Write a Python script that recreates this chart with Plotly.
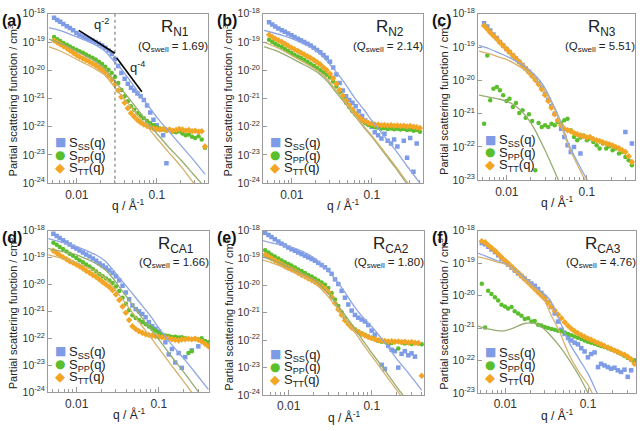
import plotly.graph_objects as go

# ---------------- data (log10 of partial scattering function, cm^3) ----------------
q = [0.0052, 0.0057, 0.0062, 0.0068, 0.0075, 0.0082, 0.0090, 0.0099, 0.0108, 0.0119,
     0.0130, 0.0143, 0.0157, 0.0172, 0.0189, 0.0207, 0.0227, 0.0249, 0.0273, 0.0300,
     0.0329, 0.0361, 0.0396, 0.0434, 0.0476, 0.0522, 0.0573, 0.0628, 0.0689, 0.0756,
     0.0829, 0.0909, 0.0997, 0.109, 0.120, 0.132, 0.144, 0.158, 0.174, 0.190,
     0.209, 0.229, 0.251, 0.276, 0.302, 0.332, 0.364, 0.40]

fit_q = [0.0045, 0.006, 0.008, 0.01, 0.013, 0.017, 0.022, 0.028, 0.035, 0.045,
         0.06, 0.08, 0.1, 0.14, 0.2, 0.28, 0.4]

a_ss_log = [-18.14,-18.22,-18.28,-18.36,-18.44,-18.50,-18.58,-18.68,-18.74,-18.80,
            -18.85,-18.90,-18.95,-19.00,-19.06,-19.12,-19.20,-19.30,-19.42,-19.60,
            -19.85,-20.10,-20.30,-20.48,-20.62,-20.72,-20.82,-20.92,-21.05,-21.25,
            -21.50,-21.75,-21.95,-22.10,-22.30,-23.30,None,None,None,None,
            None,None,None,None,None,None,None,None]
a_pp_log = [-18.82,-18.90,-18.96,-19.03,-19.10,-19.16,-19.22,-19.27,-19.33,-19.38,
            -19.44,-19.50,-19.56,-19.62,-19.70,-19.78,-19.88,-19.98,-20.10,-20.24,
            -20.45,-20.70,-20.92,-21.10,-21.28,-21.40,-21.52,-21.62,-21.70,-21.80,
            -21.88,-21.95,-22.02,-22.06,-22.10,-22.14,-22.12,-22.18,-22.20,-22.16,
            -22.24,-22.30,-22.28,-22.36,-22.40,-22.34,-22.45,-22.75]
a_tt_log = [-18.95,-19.02,-19.08,-19.15,-19.22,-19.30,-19.38,-19.46,-19.52,-19.58,
            -19.64,-19.70,-19.76,-19.82,-19.90,-19.98,-20.08,-20.20,-20.34,-20.50,
            -20.72,-20.95,-21.15,-21.35,-21.52,-21.65,-21.76,-21.85,-21.92,-21.98,
            -22.02,-22.06,-22.08,-22.10,-22.08,-22.12,-22.10,-22.14,-22.12,-22.08,
            -22.10,-22.14,-22.12,-22.16,-22.14,-22.18,-22.16,-22.70]
a_fit_ss = [-18.49,-18.58,-18.71,-18.82,-18.95,-19.10,-19.30,-19.62,-19.92,-20.32,-20.82,-21.30,-21.67,-22.15,-22.66,-23.14,-23.68]
a_fit_pp = [-18.90,-19.03,-19.18,-19.33,-19.50,-19.68,-19.92,-20.30,-20.62,-21.00,-21.45,-21.92,-22.24,-22.72,-23.18,-23.65,-24.15]
a_fit_tt = [-19.17,-19.30,-19.47,-19.62,-19.78,-19.95,-20.15,-20.50,-20.85,-21.22,-21.65,-22.08,-22.41,-22.90,-23.40,-23.95,-24.45]

b_ss_log = [-18.30,-18.38,-18.45,-18.52,-18.58,-18.64,-18.70,-18.76,-18.82,-18.88,
            -18.94,-19.00,-19.06,-19.12,-19.20,-19.28,-19.36,-19.46,-19.56,-19.70,
            -19.90,-20.15,-20.45,-20.72,-20.92,-21.05,-21.15,-21.28,-21.45,-21.62,
            -21.78,-21.90,-22.00,-22.20,-22.30,-22.42,-22.25,-22.50,-22.60,-22.45,
            -22.70,None,-22.50,-23.10,-22.40,-23.60,-22.60,None]
b_pp_log = [-18.92,-19.00,-19.06,-19.12,-19.18,-19.25,-19.32,-19.39,-19.45,-19.51,
            -19.57,-19.63,-19.70,-19.77,-19.84,-19.92,-20.00,-20.08,-20.16,-20.26,
            -20.40,-20.58,-20.78,-20.98,-21.15,-21.30,-21.45,-21.58,-21.70,-21.80,
            -21.88,-21.94,-21.98,-22.02,-22.04,-22.06,-22.05,-22.08,-22.06,-22.09,
            -22.07,-22.10,-22.08,-22.12,-22.10,-22.14,-22.12,-22.18]
b_tt_log = [-18.74,-18.82,-18.88,-18.94,-19.00,-19.06,-19.13,-19.20,-19.26,-19.32,
            -19.38,-19.44,-19.50,-19.57,-19.64,-19.72,-19.80,-19.90,-20.00,-20.12,
            -20.28,-20.48,-20.70,-20.90,-21.08,-21.24,-21.40,-21.54,-21.66,-21.75,
            -21.82,-21.87,-21.90,-21.92,-21.93,-21.95,-21.94,-21.96,-21.95,-21.97,
            -21.96,-21.98,-21.97,-21.99,-21.98,-22.00,-22.02,-22.05]
b_fit_ss = [-18.59,-18.68,-18.78,-18.88,-19.02,-19.18,-19.40,-19.70,-20.02,-20.42,-20.95,-21.40,-21.78,-22.30,-22.85,-23.42,-24.00]
b_fit_pp = [-19.16,-19.28,-19.44,-19.58,-19.75,-19.92,-20.12,-20.40,-20.75,-21.12,-21.58,-22.03,-22.36,-22.90,-23.48,-24.05,-24.60]
b_fit_tt = [-19.00,-19.15,-19.32,-19.48,-19.66,-19.85,-20.05,-20.32,-20.68,-21.08,-21.55,-22.00,-22.32,-22.85,-23.42,-23.98,-24.50]

c_ss_log = [-18.28,-18.38,-18.50,-18.62,-18.73,-18.85,-18.95,-19.06,-19.15,-19.25,
            -19.34,-19.44,-19.54,-19.64,-19.74,-19.85,-19.96,-20.08,-20.22,-20.40,
            -20.58,-20.78,-21.00,-21.22,-21.45,-21.70,-21.95,-22.15,-22.00,None,
            -22.20,None,None,None,None,None,None,None,None,None,
            None,None,None,None,-21.55,None,-21.90,None]
c_pp_log = [-21.30,-19.25,-20.60,-20.25,-20.20,-20.30,-20.45,-20.62,-20.55,-20.80,
            -20.68,-20.98,-20.90,-21.12,-21.02,-21.22,-22.70,-21.28,-21.40,-21.35,
            -21.40,-21.30,-21.35,-21.25,-21.28,-21.20,-21.15,-21.50,-21.70,-21.80,
            -21.72,-21.66,-21.80,-21.75,-21.85,-21.95,-22.05,-21.90,-22.05,-21.98,
            -22.10,-22.05,-22.20,-22.15,-22.30,-22.40,-22.55,None]
c_tt_log = [-18.36,-18.46,-18.56,-18.66,-18.76,-18.86,-18.96,-19.06,-19.15,-19.25,
            -19.35,-19.45,-19.55,-19.65,-19.76,-19.87,-19.99,-20.12,-20.27,-20.44,
            -20.62,-20.82,-21.02,-21.20,-21.35,-21.45,-21.50,-21.53,-21.58,-21.62,
            -21.65,-21.68,-21.72,-21.70,-21.76,-21.80,-21.82,-21.86,-21.90,-21.92,
            -21.96,-22.00,-22.04,-22.10,-22.15,-22.28,-22.45,None]
c_fit_ss = [-18.95,-19.05,-19.18,-19.28,-19.42,-19.60,-19.82,-20.12,-20.55,-21.12,-21.95,-22.55,-22.98,-23.60,-24.30,-25.00,-25.70]
c_fit_pp = [-20.44,-20.50,-20.56,-20.63,-20.78,-21.05,-21.45,-21.95,-22.45,-23.05,-23.70,-24.40,-25.00,-25.70,-26.40,-27.10,-27.80]
c_fit_tt = [-19.12,-19.20,-19.30,-19.38,-19.52,-19.70,-19.92,-20.20,-20.62,-21.20,-22.02,-22.65,-23.10,-23.70,-24.40,-25.10,-25.80]

d_ss_log = [-18.12,-18.20,-18.28,-18.36,-18.44,-18.52,-18.60,-18.67,-18.74,-18.82,
            -18.89,-18.96,-19.04,-19.12,-19.22,-19.30,-19.38,-19.48,-19.58,-19.70,
            -19.85,-20.05,-20.30,-20.55,-20.78,-20.92,-21.00,-21.10,-21.22,-21.40,
            -21.55,-21.65,-21.75,-21.90,-22.15,-22.60,-22.40,-22.90,-22.55,-23.10,
            -22.70,None,-22.45,None,-22.30,None,None,None]
d_pp_log = [-18.45,-18.53,-18.61,-18.69,-18.78,-18.86,-18.94,-19.02,-19.10,-19.18,
            -19.26,-19.34,-19.43,-19.52,-19.61,-19.70,-19.78,-19.86,-19.95,-20.08,
            -20.25,-20.50,-20.72,-20.95,-21.15,-21.25,-21.32,-21.40,-21.48,-21.56,
            -21.64,-21.72,-21.80,-21.86,-21.90,-21.92,-21.95,-21.94,-21.97,-21.96,
            -22.00,-22.55,-22.48,-22.02,-22.05,-22.00,-22.10,-22.15]
d_tt_log = [-18.75,-18.83,-18.91,-18.99,-19.07,-19.14,-19.20,-19.26,-19.33,-19.41,
            -19.49,-19.57,-19.65,-19.73,-19.82,-19.91,-20.00,-20.10,-20.22,-20.38,
            -20.58,-20.82,-21.05,-21.32,-21.55,-21.66,-21.74,-21.80,-21.85,-21.88,
            -21.90,-21.93,-21.95,-21.96,-21.97,-22.00,-22.04,-22.06,-22.08,-22.05,
            -22.04,-22.02,-22.04,-22.02,-22.06,-22.12,-22.20,-22.30]
d_fit_ss = [-18.30,-18.40,-18.50,-18.60,-18.74,-18.90,-19.12,-19.48,-19.85,-20.25,-20.72,-21.20,-21.62,-22.20,-22.75,-23.30,-23.90]
d_fit_pp = [-18.66,-18.75,-18.83,-18.90,-19.05,-19.22,-19.45,-19.80,-20.20,-20.65,-21.18,-21.68,-22.05,-22.65,-23.25,-23.85,-24.50]
d_fit_tt = [-18.90,-19.00,-19.10,-19.20,-19.35,-19.52,-19.75,-20.10,-20.50,-20.95,-21.48,-21.98,-22.38,-22.98,-23.60,-24.20,-24.80]

e_ss_log = [-18.08,-18.16,-18.24,-18.32,-18.40,-18.48,-18.55,-18.62,-18.68,-18.74,
            -18.80,-18.86,-18.92,-18.98,-19.04,-19.10,-19.18,-19.26,-19.34,-19.44,
            -19.58,-19.78,-19.95,-20.20,-20.45,-20.70,-20.92,-21.08,-21.18,-21.25,
            -21.32,-21.45,-21.65,-21.80,-22.00,-22.90,-23.05,-22.20,-22.35,-22.40,
            -23.00,-22.50,-22.40,-22.55,-22.48,-22.60,None,None]
e_pp_log = [-18.72,-18.80,-18.88,-18.95,-19.02,-19.09,-19.16,-19.22,-19.28,-19.35,
            -19.42,-19.48,-19.55,-19.62,-19.68,-19.75,-19.82,-19.90,-19.98,-20.10,
            -20.28,-20.52,-20.75,-20.98,-21.20,-21.38,-21.50,-21.60,-21.68,-21.75,
            -21.80,-21.86,-21.92,-21.97,-22.02,-22.06,-22.05,-22.08,-22.10,-22.06,
            -22.30,-22.08,-22.12,-22.10,-22.14,-22.10,-22.12,-22.15]
e_tt_log = [-18.88,-18.95,-19.02,-19.09,-19.16,-19.23,-19.30,-19.36,-19.42,-19.48,
            -19.55,-19.62,-19.68,-19.75,-19.81,-19.88,-19.95,-20.03,-20.12,-20.24,
            -20.42,-20.65,-20.88,-21.08,-21.28,-21.42,-21.54,-21.63,-21.70,-21.77,
            -21.83,-21.88,-21.93,-21.97,-22.00,-22.02,-22.03,-22.05,-22.04,-22.06,
            -22.05,-22.07,-22.06,-22.08,-22.07,-22.09,-22.10,-23.30]
e_fit_ss = [-18.34,-18.44,-18.52,-18.58,-18.70,-18.86,-19.08,-19.38,-19.72,-20.15,-20.72,-21.20,-21.50,-22.05,-22.68,-23.22,-23.82]
e_fit_pp = [-18.93,-19.05,-19.20,-19.34,-19.50,-19.66,-19.88,-20.20,-20.55,-20.98,-21.50,-22.05,-22.46,-23.05,-23.70,-24.30,-25.00]
e_fit_tt = [-19.05,-19.16,-19.30,-19.45,-19.60,-19.77,-20.00,-20.32,-20.67,-21.10,-21.62,-22.18,-22.58,-23.18,-23.82,-24.40,-25.10]

f_ss_log = [-18.38,-18.42,-18.50,-18.58,-18.66,-18.76,-18.86,-18.96,-19.05,-19.14,
            -19.23,-19.32,-19.40,-19.48,-19.56,-19.63,-19.70,-19.80,-19.92,-20.05,
            -20.20,-20.35,-20.55,-20.80,-21.05,-21.18,-21.30,-21.38,-21.45,-21.50,
            -21.62,-21.72,-21.90,-21.80,-21.75,-22.20,-22.10,-22.15,-22.20,-22.25,
            -22.22,-22.30,-22.35,-22.28,-22.50,-22.30,-22.00,None]
f_pp_log = [-19.64,-20.98,-19.85,-19.95,-20.05,-20.15,-20.28,-20.34,-20.40,-20.35,
            -20.48,-20.55,-20.62,-20.72,-20.70,-20.80,-20.78,-20.90,-20.92,-20.97,
            -21.00,-21.03,-21.05,-21.08,-21.10,-21.14,-21.18,-21.22,-21.26,-21.30,
            -21.34,-21.38,-21.42,-21.45,-21.48,-21.52,-21.55,-21.58,-21.62,-21.66,
            -21.70,-21.75,-21.80,-21.86,-21.92,-21.98,-22.00,None]
f_tt_log = [-18.33,-18.36,-18.45,-18.53,-18.62,-18.72,-18.82,-18.92,-19.01,-19.11,
            -19.20,-19.30,-19.40,-19.50,-19.60,-19.70,-19.80,-19.90,-20.00,-20.10,
            -20.22,-20.34,-20.46,-20.58,-20.70,-20.82,-20.93,-21.02,-21.10,-21.16,
            -21.22,-21.27,-21.32,-21.36,-21.41,-21.46,-21.50,-21.55,-21.60,-21.64,
            -21.69,-21.73,-21.78,-21.82,-21.88,-21.96,-22.10,None]
f_fit_ss = [-18.68,-18.80,-18.93,-19.02,-19.20,-19.45,-19.70,-19.90,-20.15,-20.75,-21.48,-22.00,-22.40,-23.20,-24.00,-24.80,-25.60]
f_fit_pp = [-20.93,-21.02,-21.08,-21.08,-20.98,-20.86,-20.85,-20.98,-21.22,-21.55,-22.00,-22.52,-23.00,-23.60,-24.30,-25.00,-25.70]
f_fit_tt = [-18.80,-18.87,-18.97,-19.04,-19.23,-19.50,-19.76,-20.01,-20.55,-21.10,-21.85,-22.40,-22.75,-23.50,-24.30,-25.10,-25.90]

sample_names = ["R<sub>N1</sub>", "R<sub>N2</sub>", "R<sub>N3</sub>",
                "R<sub>CA1</sub>", "R<sub>CA2</sub>", "R<sub>CA3</sub>"]
q_swell = ["1.69", "2.14", "5.51", "1.66", "1.80", "4.76"]
panel_letters = ["(a)", "(b)", "(c)", "(d)", "(e)", "(f)"]
series_names = ["S<sub>SS</sub>(q)", "S<sub>PP</sub>(q)", "S<sub>TT</sub>(q)"]

# guide lines in panel (a)
guide_q2_q = [0.0106, 0.0299]
guide_q2_s = [2.6e-19, 4.0e-20]
guide_q4_q = [0.0316, 0.065]
guide_q4_s = [2.7e-20, 1.74e-21]
q_cross = 0.03

x_major = [0.01, 0.1]
x_major_text = ["0.01", "0.1"]
x_minor = [0.004, 0.005, 0.006, 0.007, 0.008, 0.009, 0.02, 0.03, 0.04, 0.05,
           0.06, 0.07, 0.08, 0.09, 0.2, 0.3, 0.4]
y_decades = [-18, -19, -20, -21, -22, -23, -24]

# ---------------- styling ----------------
W, H = 640, 431
FONT = "Liberation Sans, Arial, sans-serif"
C_SS, C_PP, C_TT = "#7D9BE6", "#5BBE2C", "#F3A524"
F_SS, F_PP, F_TT = "#8FA6E2", "#97AD70", "#D5B16C"
AX = "#9A9A9A"


def px(x):
    return x / W


def py(y):
    return 1 - y / H


def exp10(arr):
    return [None if v is None else 10 ** v for v in arr]


panels = [
    dict(ss=a_ss_log, pp=a_pp_log, tt=a_tt_log, fss=a_fit_ss, fpp=a_fit_pp, ftt=a_fit_tt,
         box=(48, 208, 6, 181), xr=(-2.36, -0.36), yr=(-24, -18)),
    dict(ss=b_ss_log, pp=b_pp_log, tt=b_tt_log, fss=b_fit_ss, fpp=b_fit_pp, ftt=b_fit_tt,
         box=(263, 423, 6, 181), xr=(-2.36, -0.36), yr=(-24, -18)),
    dict(ss=c_ss_log, pp=c_pp_log, tt=c_tt_log, fss=c_fit_ss, fpp=c_fit_pp, ftt=c_fit_tt,
         box=(478, 635, 6, 178), xr=(-2.36, -0.40), yr=(-23, -18)),
    dict(ss=d_ss_log, pp=d_pp_log, tt=d_tt_log, fss=d_fit_ss, fpp=d_fit_pp, ftt=d_fit_tt,
         box=(48, 209, 230, 397), xr=(-2.35, -0.39), yr=(-24, -18)),
    dict(ss=e_ss_log, pp=e_pp_log, tt=e_tt_log, fss=e_fit_ss, fpp=e_fit_pp, ftt=e_fit_tt,
         box=(263, 424, 230, 400), xr=(-2.31, -0.37), yr=(-24, -18)),
    dict(ss=f_ss_log, pp=f_pp_log, tt=f_tt_log, fss=f_fit_ss, fpp=f_fit_pp, ftt=f_fit_tt,
         box=(478, 636, 230, 398), xr=(-2.33, -0.42), yr=(-23, -18)),
]

legend_glyphs = [("■", C_SS, 12), ("●", C_PP, 12), ("◆", C_TT, 13)]

fig = go.Figure()
layout = dict(width=W, height=H, margin=dict(l=0, r=0, t=0, b=0),
              paper_bgcolor="white", plot_bgcolor="white",
              font=dict(family=FONT, size=12, color="#222"), showlegend=False)
annotations = []

for i, p in enumerate(panels):
    n = i + 1
    sfx = "" if n == 1 else str(n)
    xa, ya = "x" + sfx, "y" + sfx
    x0, x1, y0, y1 = p["box"]
    decs = [d for d in y_decades if p["yr"][0] <= d <= p["yr"][1]]
    layout["xaxis" + sfx] = dict(
        type="log", range=list(p["xr"]), domain=[px(x0), px(x1)], anchor=ya,
        showline=True, mirror=True, linecolor=AX, linewidth=1,
        ticks="inside", ticklen=5, tickcolor=AX, tickvals=x_major,
        ticktext=x_major_text, tickfont=dict(size=12, color="#333"),
        showgrid=False, zeroline=False,
        minor=dict(ticks="inside", ticklen=3, tickcolor=AX, tickvals=x_minor, showgrid=False))
    layout["yaxis" + sfx] = dict(
        type="log", range=list(p["yr"]), domain=[py(y1), py(y0)], anchor=xa,
        showline=True, mirror=True, linecolor=AX, linewidth=1,
        ticks="inside", ticklen=4, tickcolor=AX,
        tickvals=[10.0 ** d for d in decs],
        ticktext=["10<sup>%d</sup>" % d for d in decs],
        tickfont=dict(size=10.5, color="#333"), showgrid=False, zeroline=False)

    # data markers
    for key, sym, col, sz, nm in [("ss", "square", C_SS, 4.5, series_names[0]),
                                  ("pp", "circle", C_PP, 4.5, series_names[1]),
                                  ("tt", "diamond", C_TT, 5, series_names[2])]:
        fig.add_trace(go.Scatter(
            x=q, y=exp10(p[key]), xaxis=xa, yaxis=ya, mode="markers", name=nm,
            marker=dict(symbol=sym, size=sz, color=col, line=dict(width=0))))
    # fitted curves
    for key, col in [("fss", F_SS), ("fpp", F_PP), ("ftt", F_TT)]:
        fig.add_trace(go.Scatter(
            x=fit_q, y=exp10(p[key]), xaxis=xa, yaxis=ya, mode="lines",
            line=dict(color=col, width=1.3, shape="spline", smoothing=0.6),
            hoverinfo="skip"))

    # legend drawn inside panel (glyph + label)
    for k, (g, col, gs) in enumerate(legend_glyphs):
        ry = y1 - 42 + 13 * k
        annotations.append(dict(text=g, xref="paper", yref="paper", x=px(x0 + 12), y=py(ry),
                                xanchor="center", yanchor="middle", showarrow=False,
                                font=dict(size=gs, color=col, family="DejaVu Sans")))
        annotations.append(dict(text=series_names[k], xref="paper", yref="paper",
                                x=px(x0 + 19), y=py(ry + 1), xanchor="left", yanchor="middle",
                                showarrow=False, font=dict(size=13, color="#222")))

    cx = (x0 + x1) / 2
    # panel letter
    annotations.append(dict(text="<b>" + panel_letters[i] + "</b>", xref="paper", yref="paper",
                            x=px(x0 - 48), y=py(y0 + 7), xanchor="left", yanchor="middle",
                            showarrow=False, font=dict(size=16, color="#111")))
    # sample name and Q_swell
    annotations.append(dict(text=sample_names[i], xref="paper", yref="paper",
                            x=px(x1 - 33), y=py(y0 + 15), xanchor="center", yanchor="middle",
                            showarrow=False, font=dict(size=17, color="#222")))
    annotations.append(dict(text="(Q<sub>swell</sub> = " + q_swell[i] + ")", xref="paper",
                            yref="paper", x=px(x1 - 35), y=py(y0 + 34), xanchor="center",
                            yanchor="middle", showarrow=False, font=dict(size=11.5, color="#222")))
    # axis titles
    annotations.append(dict(text="q / Å<sup>-1</sup>", xref="paper", yref="paper",
                            x=px(cx), y=py(y1 + 23), xanchor="center", yanchor="middle",
                            showarrow=False, font=dict(size=12, color="#222")))
    annotations.append(dict(text="Partial scattering function / cm<sup>3</sup>", xref="paper",
                            yref="paper", x=px(x0 - 35), y=py((y0 + y1) / 2 + 2),
                            xanchor="center", yanchor="middle", textangle=-90,
                            showarrow=False, font=dict(size=11, color="#222")))

# panel (a) guides
fig.add_trace(go.Scatter(x=[q_cross, q_cross], y=[1e-18, 1e-24], xaxis="x", yaxis="y",
                         mode="lines", line=dict(color="#666", width=1, dash="dot"),
                         hoverinfo="skip"))
fig.add_trace(go.Scatter(x=guide_q2_q, y=guide_q2_s, xaxis="x", yaxis="y", mode="lines",
                         line=dict(color="black", width=1.6), hoverinfo="skip"))
fig.add_trace(go.Scatter(x=guide_q4_q, y=guide_q4_s, xaxis="x", yaxis="y", mode="lines",
                         line=dict(color="black", width=1.6), hoverinfo="skip"))
annotations.append(dict(text="q<sup>-2</sup>", xref="paper", yref="paper", x=px(101), y=py(17),
                        xanchor="center", yanchor="middle", showarrow=False,
                        font=dict(size=13, color="#222")))
annotations.append(dict(text="q<sup>-4</sup>", xref="paper", yref="paper", x=px(137), y=py(61),
                        xanchor="center", yanchor="middle", showarrow=False,
                        font=dict(size=13, color="#222")))

layout["annotations"] = annotations
fig.update_layout(**layout)
fig.write_html("out.html")
